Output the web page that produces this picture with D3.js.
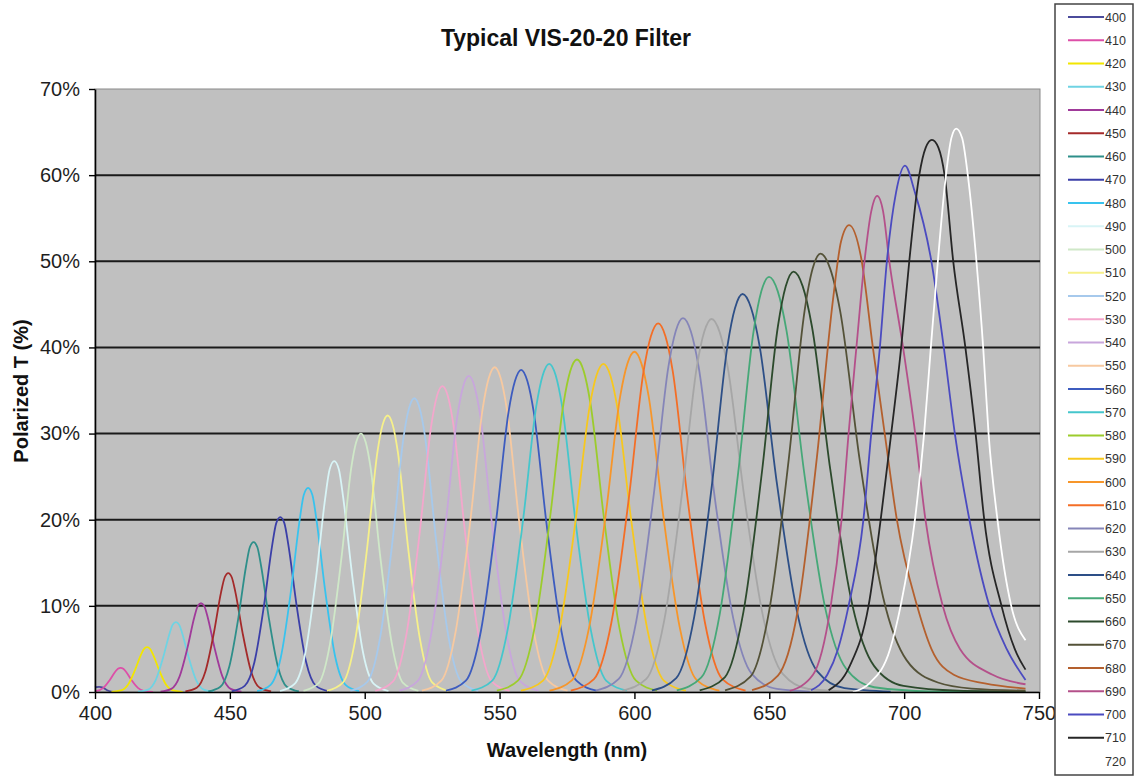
<html>
<head>
<script src="https://d3js.org/d3.v7.min.js"></script>
<style>
  body { margin: 0; background: #fff; }
  text { font-family: "Liberation Sans", Arial, sans-serif; }
</style>
</head>
<body>
<svg id="chart"></svg>
<script>
// series labels (filter centre wavelength, nm)
var seriesNames = ["400","410","420","430","440","450","460","470","480","490","500",
    "510","520","530","540","550","560","570","580","590","600","610","620","630",
    "640","650","660","670","680","690","700","710","720"];

var lineColors = ["#4b4b9b","#dd4fa8","#f2e600","#6fd3e3","#a03a9a","#a42a2a","#2e8f8a",
    "#3b3fa8","#38c3ee","#d8f4f6","#cfe8c8","#f6f08a","#a6c9ec","#f4a6cc","#c8a6dc",
    "#f7c9a0","#3d5cbf","#45c6cc","#9ccc2c","#f7c81e","#f7962a","#f46e26","#8585b8",
    "#a6a6a6","#2d4f87","#46a878","#2c4a2c","#545238","#b4602e","#b4508a","#4b4bc0",
    "#262626","#ffffff"];

// [wavelength nm, polarized T %]
var seriesPoints = [
  [[400,0.55],[401.5,0.6],[403,0.5],[404.5,0.2],[406,0.05],[408,0]],
  [[400,0.06],[403.1,0.48],[405.5,1.4],[407.5,2.35],[408.5,2.7],[409.5,2.8],[410.5,2.7],[411.5,2.35],[413.5,1.4],[415.9,0.48],[418.3,0.1],[421.5,0.01]],
  [[406.1,0.02],[409.6,0.18],[412.3,0.88],[414.9,2.6],[417.1,4.37],[418.2,5.02],[419.3,5.2],[420.4,5.02],[421.5,4.37],[423.7,2.6],[426.3,0.88],[429,0.18],[432.5,0.02]],
  [[415.9,0.03],[419.7,0.28],[422.5,1.38],[425.3,4.05],[427.65,6.8],[428.8,7.82],[430,8.1],[431.2,7.82],[432.35,6.8],[434.7,4.05],[437.5,1.38],[440.3,0.28],[444.1,0.03]],
  [[424.3,0.04],[428.3,0.36],[431.3,1.75],[434.3,5.15],[436.8,8.65],[438.05,9.94],[439.3,10.3],[440.55,9.94],[441.8,8.65],[444.3,5.15],[447.3,1.75],[450.3,0.36],[454.3,0.04]],
  [[433.5,0.06],[437.7,0.48],[440.9,2.35],[444.1,6.9],[446.75,11.6],[448.1,13.32],[449.4,13.8],[450.7,13.32],[452.05,11.6],[454.7,6.9],[457.9,2.35],[461.1,0.48],[465.3,0.06]],
  [[442,0.07],[446.5,0.61],[449.8,2.96],[453.2,8.7],[456,14.6],[457.4,16.8],[458.8,17.4],[460.2,16.8],[461.6,14.6],[464.4,8.7],[467.8,2.96],[471.1,0.61],[475.6,0.07]],
  [[450.7,0.08],[455.5,0.71],[459.1,3.45],[462.7,10.15],[465.7,17.05],[467.2,19.6],[468.7,20.3],[470.2,19.6],[471.7,17.05],[474.7,10.15],[478.3,3.45],[481.9,0.71],[486.7,0.08]],
  [[460.1,0.09],[465.1,0.83],[468.9,4.03],[472.7,11.85],[475.85,19.9],[477.4,22.87],[479,23.7],[480.6,22.87],[482.15,19.9],[485.3,11.85],[489.1,4.03],[492.9,0.83],[497.9,0.09]],
  [[468.6,0.11],[474,0.94],[478,4.56],[482,13.4],[485.35,22.5],[487,25.86],[488.7,26.8],[490.4,25.86],[492.05,22.5],[495.4,13.4],[499.4,4.56],[503.4,0.94],[508.8,0.11]],
  [[477.3,0.12],[483,1.05],[487.2,5.7],[491.5,15.9],[495.05,26.1],[496.8,28.95],[498.6,30],[500.4,28.95],[502.15,26.1],[505.7,15.9],[510,5.7],[514.2,1.05],[519.9,0.12]],
  [[486,0.13],[492,1.12],[496.5,6.1],[501,17],[504.75,27.93],[506.6,30.98],[508.5,32.1],[510.4,30.98],[512.25,27.93],[516,17],[520.5,6.1],[525,1.12],[531,0.13]],
  [[494.7,0.14],[501,1.19],[505.8,6.48],[510.5,18.07],[514.45,29.67],[516.4,32.9],[518.4,34.1],[520.4,32.9],[522.35,29.67],[526.3,18.07],[531,6.48],[535.8,1.19],[542.1,0.14]],
  [[503.9,0.14],[510.5,1.24],[515.5,6.75],[520.5,18.8],[524.65,30.89],[526.7,34.26],[528.8,35.5],[530.9,34.26],[532.95,30.89],[537.1,18.8],[542.1,6.75],[547.1,1.24],[553.7,0.14]],
  [[512.8,0.15],[519.7,1.28],[524.8,6.97],[530,19.45],[534.3,31.93],[536.45,35.42],[538.6,36.7],[540.75,35.42],[542.9,31.93],[547.2,19.45],[552.4,6.97],[557.5,1.28],[564.4,0.15]],
  [[521.2,0.15],[528.4,1.32],[533.8,7.16],[539.2,19.98],[543.7,32.8],[545.95,36.38],[548.2,37.7],[550.45,36.38],[552.7,32.8],[557.2,19.98],[562.6,7.16],[568,1.32],[575.2,0.15]],
  [[530.1,0.15],[537.5,1.31],[543.1,7.11],[548.7,19.82],[553.35,32.54],[555.7,36.09],[558,37.4],[560.3,36.09],[562.65,32.54],[567.3,19.82],[572.9,7.11],[578.5,1.31],[585.9,0.15]],
  [[539.6,0.15],[547.3,1.33],[553,7.24],[558.8,20.19],[563.6,33.15],[566,36.77],[568.4,38.1],[570.8,36.77],[573.2,33.15],[578,20.19],[583.8,7.24],[589.5,1.33],[597.2,0.15]],
  [[549,0.15],[556.9,1.35],[562.9,7.33],[568.8,20.46],[573.75,33.58],[576.2,37.25],[578.7,38.6],[581.2,37.25],[583.65,33.58],[588.6,20.46],[594.5,7.33],[600.5,1.35],[608.4,0.15]],
  [[557.9,0.15],[566.1,1.33],[572.2,7.24],[578.3,20.19],[583.4,33.15],[585.95,36.77],[588.5,38.1],[591.05,36.77],[593.6,33.15],[598.7,20.19],[604.8,7.24],[610.9,1.33],[619.1,0.15]],
  [[568.5,0.16],[576.9,1.38],[583.2,7.5],[589.5,20.94],[594.75,34.37],[597.4,38.12],[600,39.5],[602.6,38.12],[605.25,34.37],[610.5,20.94],[616.8,7.5],[623.1,1.38],[631.5,0.16]],
  [[576.4,0.17],[585,1.5],[591.5,8.13],[598,22.68],[603.4,37.24],[606.1,41.3],[608.8,42.8],[611.5,41.3],[614.2,37.24],[619.6,22.68],[626.1,8.13],[632.6,1.5],[641.2,0.17]],
  [[585.6,0.17],[594.2,1.52],[600.7,8.25],[607.2,23],[612.6,37.76],[615.3,41.88],[618,43.4],[620.9,41.88],[623.8,37.76],[629.6,23],[636.6,8.6],[643.5,2.1],[652.8,0.35],[665,0.05]],
  [[595.6,0.17],[604.4,1.52],[611,8.23],[617.6,22.95],[623.1,37.67],[625.85,41.78],[628.6,43.3],[631.6,41.78],[634.6,37.67],[640.6,22.95],[647.8,8.6],[655,2.1],[664.6,0.35],[680,0.05]],
  [[606.5,0.18],[615.5,1.62],[622.2,8.78],[628.9,24.49],[634.5,40.19],[637.3,44.58],[640.1,46.2],[643.25,44.58],[646.4,40.19],[652.7,24.49],[660.3,9.3],[667.8,2.4],[677.9,0.45],[695,0.05]],
  [[615.7,0.19],[624.8,1.69],[631.7,9.16],[638.5,25.55],[644.2,41.93],[647.05,46.51],[649.9,48.2],[653.15,46.51],[656.4,41.93],[662.9,25.55],[670.7,9.8],[678.5,2.7],[688.9,0.55],[710,0.08],[745,0.02]],
  [[624.2,0.2],[633.5,1.71],[640.4,9.27],[647.4,25.86],[653.2,42.46],[656.1,47.09],[659,48.8],[662.4,47.09],[665.8,42.46],[672.6,25.86],[680.8,10.1],[688.9,3],[699.8,0.7],[720,0.15],[745,0.05]],
  [[633.6,0.2],[643,1.78],[650.1,9.67],[657.2,26.98],[663.1,44.28],[666.05,49.12],[669,50.9],[672.6,49.12],[676.25,44.28],[683.5,26.98],[692.2,11],[700.9,3.7],[712.5,1.1],[725,0.4],[745,0.15]],
  [[643.6,0.22],[653.2,1.9],[660.4,9.2],[667.6,27.1],[673.6,45.5],[676.6,52.3],[679.6,54.2],[684,50.5],[688.4,40],[692.8,30],[697.3,20],[704.8,10],[710.1,5],[718.4,2],[729.9,1],[745,0.4]],
  [[657.6,0.12],[666.2,2],[672.7,9.8],[676.8,20],[679.4,30],[682.3,40],[685.3,50],[687.8,55.8],[690,57.6],[692.2,55.8],[694.5,50],[699.6,40],[704.1,30],[707.9,20],[714.3,10],[720.7,5],[732.8,2],[745,0.9]],
  [[665.5,0.2],[671.5,2],[675.5,5],[679.4,10],[684.9,20],[687.8,30],[691,40],[693.6,50],[697,58],[700.3,61.1],[704,58],[710.1,50],[714.7,40],[718.8,30],[724.2,20],[731.6,10],[738,5],[745,1.4]],
  [[672,0.2],[679.8,3],[686.8,10],[691.3,20],[695.2,30],[698.9,40],[701.9,50],[705.6,60],[708,63.2],[710.3,64.1],[712.7,63.2],[715,60],[718.2,50],[722.7,40],[726.5,30],[729.7,20],[736.1,10],[741,5],[745,2.6]],
  [[681,0],[687.1,1],[694.8,5],[698.7,10],[704,20],[707.4,30],[709.9,40],[712.5,50],[715.5,60],[717.5,64.3],[719.3,65.4],[721.5,64.3],[723.6,60],[726.8,50],[729.3,40],[731.3,30],[734.6,20],[739.7,10],[745,6]]
];

var xTicks = [400,450,500,550,600,650,700,750];
var yTicks = [0,10,20,30,40,50,60,70];

var SizeX = 1136, SizeY = 778;
var Plot = { left: 95, right: 1040, top: 89, bottom: 692 };

var svg = d3.select("#chart")
    .attr("width", SizeX)
    .attr("height", SizeY);

var x_scale = d3.scaleLinear().domain([400, 750]).range([Plot.left, 1039]);
var y_scale = d3.scaleLinear().domain([0, 70]).range([Plot.bottom, Plot.top]);

// grey plot area
svg.append("rect")
    .attr("x", Plot.left).attr("y", Plot.top)
    .attr("width", Plot.right - Plot.left)
    .attr("height", Plot.bottom - Plot.top)
    .attr("fill", "#c0c0c0")
    .attr("stroke", "#8a8a8a")
    .attr("stroke-width", 1);

// horizontal grid lines
svg.append("g").selectAll("line")
    .data(yTicks.filter(function(d){ return d > 0 && d < 70; }))
    .enter().append("line")
        .attr("x1", Plot.left).attr("x2", Plot.right)
        .attr("y1", function(d){ return y_scale(d); })
        .attr("y2", function(d){ return y_scale(d); })
        .attr("stroke", "#1a1a1a")
        .attr("stroke-width", 2);

// filter curves
var line = d3.line()
    .x(function(d){ return x_scale(d[0]); })
    .y(function(d){ return y_scale(d[1]); })
    .curve(d3.curveMonotoneX);

svg.append("g").selectAll("path")
    .data(seriesPoints)
    .enter().append("path")
        .attr("d", line)
        .attr("fill", "none")
        .attr("stroke", function(d, i){ return lineColors[i]; })
        .attr("stroke-width", 1.8);

// axes
var x_axis = d3.axisBottom(x_scale).tickValues(xTicks).tickSize(7).tickSizeOuter(0).tickPadding(7);
var y_axis = d3.axisLeft(y_scale).tickValues(yTicks).tickSize(6).tickSizeOuter(0).tickPadding(9)
    .tickFormat(function(d){ return d + "%"; });

function styleAxis(g) {
    g.select(".domain").attr("stroke", "#000").attr("stroke-width", 1.6);
    g.selectAll(".tick line").attr("stroke", "#000").attr("stroke-width", 1.4);
    g.selectAll(".tick text").attr("fill", "#1e1e1e").style("font-size", "20px")
        .style("font-family", "'Liberation Sans', Arial, sans-serif");
}

svg.append("g").attr("transform", "translate(0," + Plot.bottom + ")").call(x_axis).call(styleAxis);
svg.append("g").attr("transform", "translate(" + Plot.left + ",0)").call(y_axis).call(styleAxis);

// titles
svg.append("text")
    .attr("x", 566).attr("y", 46)
    .attr("text-anchor", "middle")
    .style("font-size", "23px").style("font-weight", "bold").attr("fill", "#111")
    .text("Typical VIS-20-20 Filter");

svg.append("text")
    .attr("x", 567).attr("y", 757)
    .attr("text-anchor", "middle")
    .style("font-size", "20px").style("font-weight", "bold").attr("fill", "#111")
    .text("Wavelength (nm)");

svg.append("text")
    .attr("transform", "translate(28,391) rotate(-90)")
    .attr("text-anchor", "middle")
    .style("font-size", "20px").style("font-weight", "bold").attr("fill", "#111")
    .text("Polarized T (%)");

// legend
var legend = svg.append("g");
legend.append("rect")
    .attr("x", 1055).attr("y", 4)
    .attr("width", 78).attr("height", 771)
    .attr("fill", "#fff")
    .attr("stroke", "#444").attr("stroke-width", 1.5);

var items = legend.selectAll(".item")
    .data(seriesNames)
    .enter().append("g").classed("item", true)
        .attr("transform", function(d, i){ return "translate(0," + (17 + i * 23.25) + ")"; });

items.append("line")
    .attr("x1", 1068).attr("x2", 1104)
    .attr("stroke", function(d, i){ return lineColors[i]; })
    .attr("stroke-width", 2);

items.append("text")
    .attr("x", 1105).attr("dy", "0.36em")
    .style("font-size", "12.5px").attr("fill", "#333")
    .text(function(d){ return d; });
</script>
</body>
</html>
